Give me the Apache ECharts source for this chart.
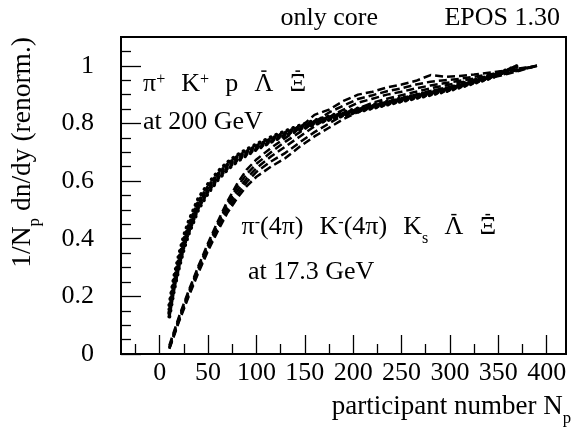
<!DOCTYPE html>
<html>
<head>
<meta charset="utf-8">
<script src="https://cdn.jsdelivr.net/npm/echarts@6/dist/echarts.min.js"></script>
<style>
  html, body { margin: 0; padding: 0; background: #fff; }
  #chart { width: 576px; height: 427px; }
</style>
</head>
<body>
<div id="chart"></div>
<script>
// Participant-number grid and normalised yields, 200 GeV (dotted curves)
const nDotted = [10, 15, 20, 25, 30, 40, 50, 60, 70, 80, 90, 100, 120, 140, 160, 180, 200, 220, 240, 260, 280, 300, 320, 340, 360, 370];
const piPlus200  = [0.17, 0.27, 0.345, 0.41, 0.46, 0.54, 0.59, 0.632, 0.665, 0.69, 0.71, 0.728, 0.76, 0.787, 0.81, 0.83, 0.848, 0.865, 0.88, 0.895, 0.91, 0.925, 0.945, 0.963, 0.987, 1.0];
const kPlus200   = [0.155, 0.255, 0.33, 0.395, 0.445, 0.527, 0.58, 0.623, 0.657, 0.684, 0.703, 0.722, 0.754, 0.782, 0.806, 0.826, 0.843, 0.86, 0.876, 0.891, 0.906, 0.921, 0.941, 0.96, 0.985, 1.0];
const proton200  = [0.145, 0.245, 0.32, 0.385, 0.435, 0.518, 0.572, 0.616, 0.651, 0.678, 0.698, 0.717, 0.75, 0.778, 0.803, 0.823, 0.84, 0.857, 0.873, 0.888, 0.903, 0.918, 0.938, 0.958, 0.983, 1.0];
const aLambda200 = [0.14, 0.235, 0.31, 0.375, 0.425, 0.51, 0.565, 0.61, 0.645, 0.673, 0.694, 0.713, 0.747, 0.775, 0.8, 0.82, 0.838, 0.855, 0.871, 0.886, 0.901, 0.917, 0.937, 0.957, 0.982, 1.0];
const aXi200     = [0.13, 0.225, 0.3, 0.365, 0.417, 0.502, 0.558, 0.604, 0.64, 0.668, 0.69, 0.71, 0.744, 0.772, 0.797, 0.818, 0.836, 0.853, 0.869, 0.884, 0.899, 0.915, 0.935, 0.955, 0.98, 1.0];

// Participant-number grid and normalised yields, 17.3 GeV (dashed curves)
const nDashed = [10, 15, 20, 30, 40, 50, 60, 70, 80, 90, 100, 115, 130, 145, 160, 175, 190, 205, 220, 235, 250, 265, 280, 295, 310, 325, 340, 355, 370, 390];
const aXi17     = [0.03, 0.08, 0.13, 0.22, 0.305, 0.385, 0.46, 0.53, 0.59, 0.64, 0.675, 0.715, 0.75, 0.785, 0.83, 0.848, 0.878, 0.9, 0.91, 0.925, 0.935, 0.948, 0.968, 0.962, 0.965, 0.97, 0.976, 0.982, 0.99, 1.0];
const aLambda17 = [0.025, 0.075, 0.125, 0.215, 0.3, 0.378, 0.452, 0.522, 0.578, 0.625, 0.66, 0.70, 0.737, 0.77, 0.805, 0.838, 0.862, 0.885, 0.898, 0.912, 0.922, 0.935, 0.945, 0.95, 0.955, 0.962, 0.97, 0.977, 0.988, 1.0];
const kShort17  = [0.022, 0.07, 0.12, 0.21, 0.295, 0.372, 0.445, 0.512, 0.565, 0.61, 0.645, 0.685, 0.72, 0.755, 0.79, 0.822, 0.848, 0.872, 0.886, 0.9, 0.91, 0.922, 0.932, 0.94, 0.948, 0.956, 0.964, 0.974, 0.985, 1.0];
const kMinus17  = [0.02, 0.068, 0.117, 0.205, 0.288, 0.365, 0.435, 0.5, 0.552, 0.597, 0.632, 0.668, 0.698, 0.735, 0.77, 0.80, 0.83, 0.852, 0.872, 0.886, 0.898, 0.91, 0.922, 0.932, 0.942, 0.952, 0.96, 0.97, 0.983, 1.0];
const piMinus17 = [0.018, 0.065, 0.113, 0.2, 0.282, 0.358, 0.426, 0.49, 0.54, 0.583, 0.615, 0.65, 0.68, 0.72, 0.755, 0.785, 0.815, 0.84, 0.86, 0.875, 0.888, 0.90, 0.913, 0.923, 0.934, 0.946, 0.957, 0.968, 0.981, 1.0];

// Axis ticks
const xMajorTicks = [0, 50, 100, 150, 200, 250, 300, 350, 400];
const xMinorTicks = [-25, 25, 75, 125, 175, 225, 275, 325, 375];
const yMajorTicks = [0, 0.2, 0.4, 0.6, 0.8, 1];
const yMinorTicks = [0.05, 0.1, 0.15, 0.25, 0.3, 0.35, 0.45, 0.5, 0.55, 0.65, 0.7, 0.75, 0.85, 0.9, 0.95, 1.05];

const FONT = '"Liberation Serif", "Times New Roman", serif';
const FS = 26;
const measureCtx = document.createElement('canvas').getContext('2d');
function textWidth(t, size) {
  measureCtx.font = size + 'px ' + FONT;
  return measureCtx.measureText(t).width;
}

// Lay out a TLatex-like run: pieces are [text, kind] with kind in
// '', 'sup', 'sub', 'bar' (overlined letter) or 'gap' (fixed blank space).
// (x, y) is the left end of the baseline unless align === 'right'.
function latexRun(pieces, x, y, size, align) {
  const items = [];
  let cx = 0;
  pieces.forEach(([t, kind]) => {
    if (kind === 'gap') { cx += size * 0.62; return; }
    const s = (kind === 'sup' || kind === 'sub') ? size * 0.62 : size;
    const w = textWidth(t, s);
    const dy = kind === 'sup' ? -size * 0.3 : kind === 'sub' ? size * 0.3 : 0;
    items.push({ t, s, w, dx: cx, dy, kind });
    cx += w;
  });
  const shift = align === 'right' ? -cx : 0;
  const out = [];
  items.forEach(it => {
    const left = x + it.dx + shift;
    out.push({
      type: 'text', x: left, y: y + it.dy - 0.34 * it.s, silent: true,
      style: { text: it.t, font: it.s + 'px ' + FONT, fill: '#000',
               textAlign: 'left', textVerticalAlign: 'middle', verticalAlign: 'middle' }
    });
    if (it.kind === 'bar') {
      out.push({
        type: 'rect', silent: true,
        shape: { x: left + it.w * 0.36, y: y - 0.87 * it.s, width: it.w * 0.28, height: 1.5 },
        style: { fill: '#000' }
      });
    }
  });
  return out;
}

function pairs(xs, ys) { return xs.map((n, i) => [n, ys[i]]); }

const dottedStyle = { color: '#000', width: 4, type: [0.1, 6], cap: 'round' };
const dashedStyle = { color: '#000', width: 2.5, type: [8, 4] };

const series = [];
[piPlus200, kPlus200, proton200, aLambda200, aXi200].forEach((ys, i) => {
  series.push({ type: 'line', name: 'rhic' + i, data: pairs(nDotted, ys), showSymbol: false,
                lineStyle: dottedStyle, z: 3, animation: false });
});
[piMinus17, kMinus17, kShort17, aLambda17, aXi17].forEach((ys, i) => {
  series.push({ type: 'line', name: 'sps' + i, data: pairs(nDashed, ys), showSymbol: false,
                lineStyle: dashedStyle, z: 2, animation: false });
});

const axisFont = { fontFamily: FONT, fontSize: FS, color: '#000' };

const graphicEls = [].concat(
  latexRun([['only core']], 378, 27, FS, 'right'),
  latexRun([['EPOS 1.30']], 560, 27, FS, 'right'),
  latexRun([['π'], ['+', 'sup'], ['', 'gap'], ['K'], ['+', 'sup'], ['', 'gap'], ['p'], ['', 'gap'],
            ['Λ', 'bar'], ['', 'gap'], ['Ξ', 'bar']], 143, 93, FS),
  latexRun([['at 200 GeV']], 143, 131.5, FS),
  latexRun([['π'], ['-', 'sup'], ['(4π)'], ['', 'gap'], ['K'], ['-', 'sup'], ['(4π)'], ['', 'gap'],
            ['K'], ['s', 'sub'], ['', 'gap'], ['Λ', 'bar'], ['', 'gap'], ['Ξ', 'bar']], 241.5, 236.5, FS),
  latexRun([['at 17.3 GeV']], 248, 281.5, FS),
  latexRun([['participant number N'], ['p', 'sub']], 571, 416, 27, 'right'),
  [{
    type: 'group', x: 32, y: 37, rotation: Math.PI / 2,
    children: latexRun([['1/N'], ['p', 'sub'], [' dn/dy (renorm.)']], 0, 0, 27.5, 'right')
  }]
);

const chart = echarts.init(document.getElementById('chart'), null, { renderer: 'canvas' });
chart.setOption({
  animation: false,
  backgroundColor: '#fff',
  grid: { left: 121, right: 10, top: 37, bottom: 73, show: true, borderColor: '#000', borderWidth: 2 },
  xAxis: [
    {
      type: 'value', min: -40, max: 420, position: 'bottom',
      axisLine: { show: true, onZero: false, lineStyle: { color: '#000', width: 2 } },
      axisTick: { show: true, inside: true, length: 19, customValues: xMajorTicks, lineStyle: { color: '#000', width: 1.3 } },
      axisLabel: Object.assign({ customValues: xMajorTicks, margin: 6, formatter: v => String(v) }, axisFont),
      splitLine: { show: false }
    },
    {
      type: 'value', min: -40, max: 420, position: 'bottom',
      axisLine: { show: false, onZero: false },
      axisTick: { show: true, inside: true, length: 10, customValues: xMinorTicks, lineStyle: { color: '#000', width: 1.3 } },
      axisLabel: { show: false },
      splitLine: { show: false }
    }
  ],
  yAxis: [
    {
      type: 'value', min: 0, max: 1.1, position: 'left',
      axisLine: { show: true, onZero: false, lineStyle: { color: '#000', width: 2 } },
      axisTick: { show: true, inside: true, length: 20, customValues: yMajorTicks, lineStyle: { color: '#000', width: 1.3 } },
      axisLabel: Object.assign({ customValues: yMajorTicks, margin: 27, formatter: v => String(v) }, axisFont),
      splitLine: { show: false }
    },
    {
      type: 'value', min: 0, max: 1.1, position: 'left',
      axisLine: { show: false, onZero: false },
      axisTick: { show: true, inside: true, length: 10, customValues: yMinorTicks, lineStyle: { color: '#000', width: 1.3 } },
      axisLabel: { show: false },
      splitLine: { show: false }
    }
  ],
  series: series.map(s => Object.assign(s, { xAxisIndex: 0, yAxisIndex: 0 })),
  graphic: { elements: graphicEls }
});
</script>
</body>
</html>
